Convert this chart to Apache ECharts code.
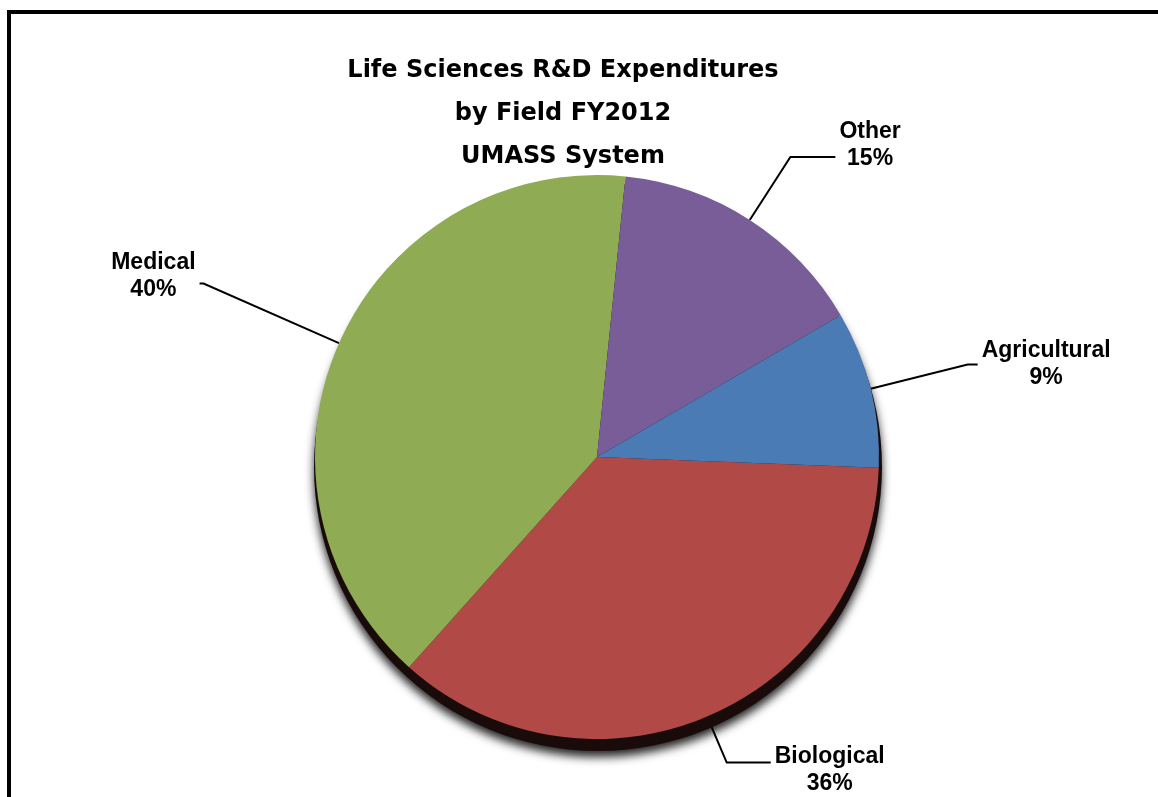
<!DOCTYPE html>
<html>
<head>
<meta charset="utf-8">
<script src="https://cdn.jsdelivr.net/npm/echarts@6/dist/echarts.min.js"></script>
<style>
  html, body { margin: 0; padding: 0; background: #fff; }
  #chart { width: 1158px; height: 797px; }
</style>
</head>
<body>
<div id="chart"></div>
<script>
// data (clockwise from just below 3 o'clock)
var fields = ['Biological', 'Medical', 'Other', 'Agricultural'];
var shares = [36, 40, 15, 9];
var colors = ['#b14a47', '#8fac55', '#785d99', '#4a7bb4'];

// leader line lengths and label nudges, same order as fields
var lineLen = [50, 148, 75, 100];
var lineLen2 = [44, 4, 45, 10];
var labelPad = [[16, 0, 0, 0], [0, 0, 14, 0], [0, 0, 24, 0], [0, 0, 0, 0]];

var chart = echarts.init(document.getElementById('chart'));

var pieData = fields.map(function (name, i) {
  return {
    name: name,
    value: shares[i],
    itemStyle: { color: colors[i] },
    labelLine: { length: lineLen[i], length2: lineLen2[i] },
    label: { padding: labelPad[i] }
  };
});

chart.setOption({
  backgroundColor: '#fff',
  animation: false,
  title: {
    text: 'Life Sciences R&D Expenditures\nby Field FY2012\nUMASS System',
    left: 558,
    top: 44,
    textAlign: 'center',
    textStyle: {
      fontFamily: 'DejaVu Sans',
      fontSize: 24,
      fontWeight: 'bold',
      lineHeight: 43,
      color: '#000'
    }
  },
  graphic: [{
    type: 'rect',
    shape: { x: 9, y: 12, width: 1200, height: 900 },
    style: { fill: 'none', stroke: '#000', lineWidth: 4 },
    silent: true
  }],
  series: [
    {
      // dark drop shadow under the pie
      type: 'pie',
      silent: true,
      center: [598, 467],
      radius: 284,
      label: { show: false },
      labelLine: { show: false },
      itemStyle: {
        color: '#1a0b0b',
        shadowBlur: 10,
        shadowOffsetY: 6,
        shadowColor: 'rgba(0,0,0,0.85)'
      },
      emphasis: { disabled: true },
      data: [1]
    },
    {
      type: 'pie',
      center: [597, 457],
      radius: 282,
      startAngle: -2.2,
      clockwise: true,
      avoidLabelOverlap: false,
      emphasis: { disabled: true },
      itemStyle: { borderWidth: 0 },
      label: {
        position: 'outside',
        distanceToLabelLine: 4,
        formatter: '{t|{b}}\n{t|{c}%}',
        rich: {
          t: {
            align: 'center',
            fontFamily: 'Liberation Sans',
            fontWeight: 'bold',
            fontSize: 23,
            lineHeight: 27,
            color: '#000'
          }
        }
      },
      labelLine: {
        show: true,
        lineStyle: { color: '#000', width: 2 }
      },
      data: pieData
    }
  ]
});
</script>
</body>
</html>
